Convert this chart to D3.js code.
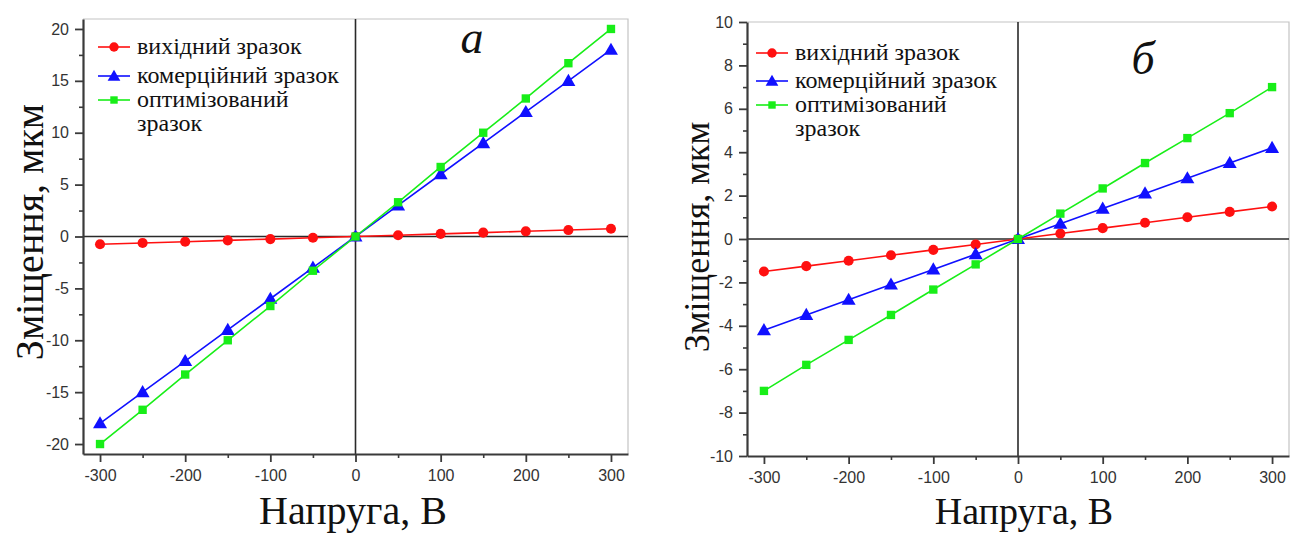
<!DOCTYPE html>
<html>
<head>
<meta charset="utf-8">
<script src="https://cdn.jsdelivr.net/npm/d3@7"></script>
<style>
  html, body { margin: 0; padding: 0; background: #fff; }
  svg { display: block; }
</style>
</head>
<body>
<svg id="chart" width="1300" height="535"></svg>
<script>
// Applied voltage, V
const voltage = [-300, -250, -200, -150, -100, -50, 0, 50, 100, 150, 200, 250, 300];

// Panel "а": displacement, µm
const aOriginal   = [-0.75, -0.62, -0.5, -0.37, -0.25, -0.12, 0, 0.12, 0.25, 0.37, 0.5, 0.62, 0.75];
const aCommercial = [-18, -15, -12, -9, -6, -3, 0, 3, 6, 9, 12, 15, 18];
const aOptimized  = [-20, -16.7, -13.3, -10, -6.7, -3.3, 0, 3.3, 6.7, 10, 13.3, 16.7, 20];

// Panel "б": displacement, µm
const bOriginal   = [-1.5, -1.25, -1, -0.75, -0.5, -0.25, 0, 0.25, 0.5, 0.75, 1, 1.25, 1.5];
const bCommercial = [-4.2, -3.5, -2.8, -2.1, -1.4, -0.7, 0, 0.7, 1.4, 2.1, 2.8, 3.5, 4.2];
const bOptimized  = [-7, -5.8, -4.65, -3.5, -2.33, -1.17, 0, 1.17, 2.33, 3.5, 4.65, 5.8, 7];

// Tick values
const xTicks = [-300, -200, -100, 0, 100, 200, 300];
const xMinor = [-250, -150, -50, 50, 150, 250];
const aYTicks = [-20, -15, -10, -5, 0, 5, 10, 15, 20];
const aYMinor = [-17.5, -12.5, -7.5, -2.5, 2.5, 7.5, 12.5, 17.5];
const bYTicks = [-10, -8, -6, -4, -2, 0, 2, 4, 6, 8, 10];
const bYMinor = [-9, -7, -5, -3, -1, 1, 3, 5, 7, 9];

// Legend entries and texts
const seriesNames = ["вихідний зразок", "комерційний зразок", "оптимізований"];
const seriesNameExtra = "зразок";
const seriesColors = ["#ff1010", "#1010ff", "#18ee18"];
const seriesShapes = [d3.symbolCircle, d3.symbolTriangle, d3.symbolSquare];
const xTitle = "Напруга, В";
const yTitle = "Зміщення, мкм";

const svg = d3.select("#chart");
const plainNumber = d => String(d);   // hyphen-minus labels

function drawPanel(cfg) {
  const x = d3.scaleLinear().domain([-320, 320]).range([cfg.left, cfg.right]);
  const y = d3.scaleLinear().domain(cfg.yDomain).range([cfg.bottom, cfg.top]);
  const g = svg.append("g");

  // frame (top and right)
  g.append("path")
    .attr("d", `M${cfg.left},${cfg.top}H${cfg.right}V${cfg.bottom}`)
    .attr("fill", "none").attr("stroke", "#c4c4c4").attr("stroke-width", 1.2);

  // zero lines
  g.append("line")
    .attr("x1", x(0)).attr("x2", x(0)).attr("y1", cfg.top).attr("y2", cfg.bottom)
    .attr("stroke", "#2a2a2a").attr("stroke-width", 1.6);
  g.append("line")
    .attr("x1", cfg.left).attr("x2", cfg.right).attr("y1", y(0)).attr("y2", y(0))
    .attr("stroke", "#2a2a2a").attr("stroke-width", 1.6);

  // axes
  const styleAxis = sel => {
    sel.select(".domain").attr("stroke", "#3a3a3a").attr("stroke-width", 2.2);
    sel.selectAll(".tick line").attr("stroke", "#3a3a3a").attr("stroke-width", 1.8);
    sel.selectAll(".tick text")
      .attr("fill", "#333")
      .style("font-family", "'Liberation Sans', Arial, sans-serif")
      .style("font-size", "16px");
  };

  const xAxis = g.append("g").attr("transform", `translate(0,${cfg.bottom})`)
    .call(d3.axisBottom(x).tickValues(xTicks).tickSize(8).tickSizeOuter(0).tickPadding(5).tickFormat(plainNumber))
    .call(styleAxis);
  xAxis.selectAll(".tick text").attr("dy", "0.85em");
  g.append("g").attr("transform", `translate(0,${cfg.bottom})`)
    .call(d3.axisBottom(x).tickValues(xMinor).tickSize(4).tickFormat(""))
    .call(sel => { sel.select(".domain").remove(); sel.selectAll("line").attr("stroke", "#3a3a3a").attr("stroke-width", 1.6); });

  g.append("g").attr("transform", `translate(${cfg.left},0)`)
    .call(d3.axisLeft(y).tickValues(cfg.yTicks).tickSize(8).tickSizeOuter(0).tickPadding(6).tickFormat(plainNumber))
    .call(styleAxis);
  g.append("g").attr("transform", `translate(${cfg.left},0)`)
    .call(d3.axisLeft(y).tickValues(cfg.yMinor).tickSize(4).tickFormat(""))
    .call(sel => { sel.select(".domain").remove(); sel.selectAll("line").attr("stroke", "#3a3a3a").attr("stroke-width", 1.6); });

  // series
  const line = d3.line().x((d, i) => x(voltage[i])).y(d => y(d));
  cfg.series.forEach((vals, k) => {
    g.append("path").datum(vals)
      .attr("d", line).attr("fill", "none")
      .attr("stroke", seriesColors[k]).attr("stroke-width", 1.6);
    const size = k === 0 ? 80 : (k === 1 ? 85 : 70);
    g.selectAll(null).data(vals).join("path")
      .attr("transform", (d, i) => `translate(${x(voltage[i])},${y(d) + (k === 1 ? 1 : 0)})`)
      .attr("d", d3.symbol().type(seriesShapes[k]).size(size))
      .attr("fill", seriesColors[k]);
  });

  // legend
  const lg = g.append("g");
  cfg.legendRows.forEach((ry, k) => {
    lg.append("line")
      .attr("x1", cfg.legendX).attr("x2", cfg.legendX + 32)
      .attr("y1", ry).attr("y2", ry)
      .attr("stroke", seriesColors[k]).attr("stroke-width", 1.6);
    lg.append("path")
      .attr("transform", `translate(${cfg.legendX + 16},${ry + (k === 1 ? 1 : 0)})`)
      .attr("d", d3.symbol().type(seriesShapes[k]).size(k === 2 ? 55 : 70))
      .attr("fill", seriesColors[k]);
    lg.append("text")
      .attr("x", cfg.legendX + 39).attr("y", ry + 7)
      .style("font-family", "'Liberation Serif', 'Times New Roman', serif")
      .style("font-size", "24px").attr("fill", "#111")
      .text(seriesNames[k]);
  });
  lg.append("text")
    .attr("x", cfg.legendX + 39).attr("y", cfg.legendExtraY + 7)
    .style("font-family", "'Liberation Serif', 'Times New Roman', serif")
    .style("font-size", "24px").attr("fill", "#111")
    .text(seriesNameExtra);

  // panel letter
  g.append("text")
    .attr("x", cfg.letterX).attr("y", cfg.letterY)
    .attr("text-anchor", "middle")
    .style("font-family", "'Liberation Serif', 'Times New Roman', serif")
    .style("font-style", "italic").style("font-size", "46px").attr("fill", "#111")
    .text(cfg.letter);

  // axis titles
  g.append("text")
    .attr("x", cfg.xTitleX).attr("y", 524)
    .attr("text-anchor", "middle")
    .style("font-family", "'Liberation Serif', 'Times New Roman', serif")
    .style("font-size", cfg.titleSize + "px").attr("fill", "#111")
    .text(xTitle);
  g.append("text")
    .attr("transform", `translate(${cfg.yTitleX},${cfg.yTitleY}) rotate(-90)`)
    .attr("text-anchor", "middle")
    .style("font-family", "'Liberation Serif', 'Times New Roman', serif")
    .style("font-size", cfg.yTitleSize + "px").attr("fill", "#111")
    .text(yTitle);
}

drawPanel({
  left: 83, right: 628, top: 19, bottom: 454,
  yDomain: [-20.96, 20.96], yTicks: aYTicks, yMinor: aYMinor,
  series: [aOriginal, aCommercial, aOptimized],
  legendX: 98, legendRows: [47, 76, 100], legendExtraY: 124,
  letter: "а", letterX: 472, letterY: 53,
  xTitleX: 353, titleSize: 40, yTitleX: 43, yTitleY: 232, yTitleSize: 40
});

drawPanel({
  left: 747, right: 1289, top: 22, bottom: 456,
  yDomain: [-10, 10], yTicks: bYTicks, yMinor: bYMinor,
  series: [bOriginal, bCommercial, bOptimized],
  legendX: 756, legendRows: [53, 81, 105], legendExtraY: 129,
  letter: "б", letterX: 1143, letterY: 74,
  xTitleX: 1024, titleSize: 38, yTitleX: 709, yTitleY: 237, yTitleSize: 36
});
</script>
</body>
</html>
